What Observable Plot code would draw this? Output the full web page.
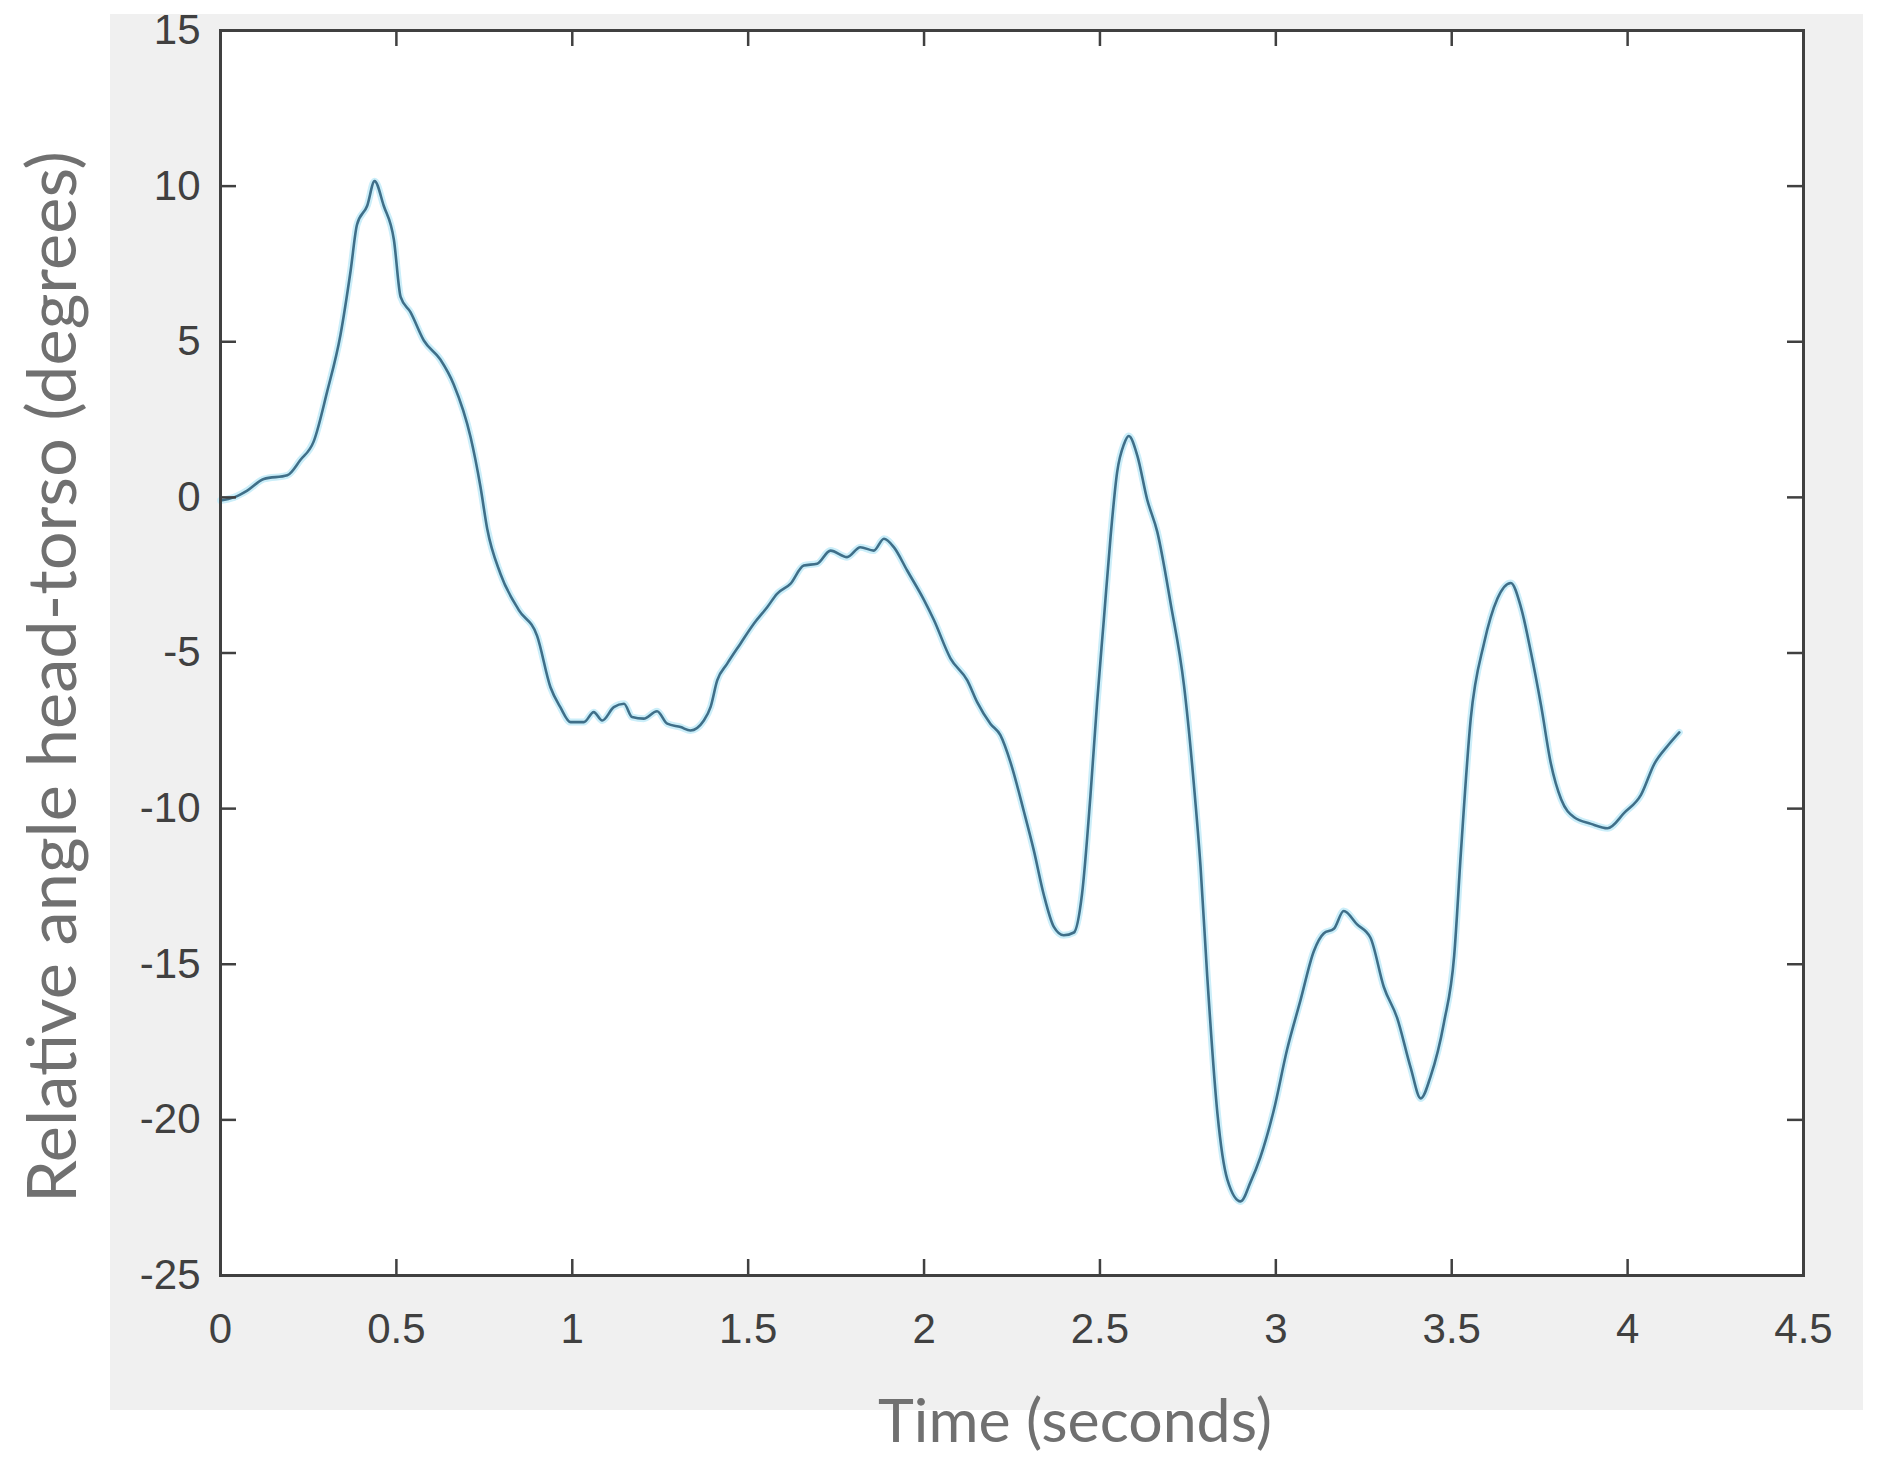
<!DOCTYPE html>
<html>
<head>
<meta charset="utf-8">
<script src="https://cdn.jsdelivr.net/npm/d3@7"></script>
<script src="https://cdn.jsdelivr.net/npm/@observablehq/plot@0.6"></script>
<style>
  html, body { margin: 0; padding: 0; background: #ffffff; overflow: hidden; }
  #wrap { position: relative; width: 1884px; height: 1472px; }
  #figbg { position: absolute; left: 110px; top: 14px; width: 1753px; height: 1396px; background: #f0f0f0; }
  #chart { position: absolute; left: 0; top: 0; }
</style>
</head>
<body>
<div id="wrap"><div id="figbg"></div><div id="chart"></div></div>
<script>
// ---- data ----
const times = [0, 0.038, 0.076, 0.123, 0.19, 0.227, 0.265, 0.303, 0.341, 0.370, 0.388, 0.417, 0.438, 0.464, 0.493, 0.512, 0.540, 0.578, 0.625, 0.663, 0.711, 0.739, 0.758, 0.796, 0.848, 0.900, 0.938, 0.966, 0.995, 1.033, 1.061, 1.085, 1.118, 1.147, 1.17, 1.203, 1.241, 1.27, 1.308, 1.336, 1.374, 1.393, 1.412, 1.44, 1.478, 1.516, 1.554, 1.582, 1.62, 1.658, 1.696, 1.734, 1.781, 1.819, 1.857, 1.886, 1.914, 1.952, 2.0, 2.028, 2.075, 2.123, 2.151, 2.189, 2.217, 2.246, 2.284, 2.312, 2.34, 2.369, 2.397, 2.426, 2.449, 2.473, 2.492, 2.511, 2.53, 2.549, 2.568, 2.582, 2.606, 2.634, 2.663, 2.701, 2.739, 2.767, 2.786, 2.805, 2.834, 2.862, 2.9, 2.928, 2.956, 2.994, 3.032, 3.07, 3.108, 3.136, 3.165, 3.193, 3.231, 3.269, 3.307, 3.345, 3.383, 3.412, 3.44, 3.478, 3.507, 3.526, 3.554, 3.592, 3.63, 3.668, 3.697, 3.725, 3.754, 3.782, 3.811, 3.848, 3.896, 3.943, 3.991, 4.038, 4.076, 4.114, 4.147];
const angles = [-0.1, 0.0, 0.22, 0.59, 0.71, 1.2, 1.8, 3.39, 5.22, 7.29, 8.76, 9.37, 10.16, 9.37, 8.27, 6.44, 5.95, 5.04, 4.43, 3.63, 1.93, 0.34, -1.0, -2.46, -3.62, -4.45, -6.1, -6.74, -7.22, -7.22, -6.9, -7.17, -6.74, -6.63, -7.06, -7.11, -6.87, -7.27, -7.38, -7.49, -7.17, -6.74, -5.88, -5.35, -4.7, -4.06, -3.53, -3.1, -2.78, -2.19, -2.13, -1.71, -1.92, -1.6, -1.71, -1.33, -1.6, -2.35, -3.3, -3.94, -5.17, -5.88, -6.58, -7.28, -7.64, -8.52, -10.1, -11.34, -12.75, -13.8, -14.07, -13.98, -12.75, -9.58, -6.58, -3.94, -1.29, 0.82, 1.7, 1.97, 1.35, -0.06, -1.11, -3.41, -6.05, -9.22, -11.87, -15.39, -19.8, -21.91, -22.62, -22.0, -21.2, -19.7, -17.74, -16.16, -14.58, -14.01, -13.86, -13.29, -13.72, -14.15, -15.73, -16.73, -18.31, -19.31, -18.6, -16.87, -14.72, -11.42, -7.12, -4.68, -3.25, -2.75, -3.54, -4.97, -6.69, -8.56, -9.7, -10.28, -10.49, -10.63, -10.13, -9.56, -8.56, -7.98, -7.55];
const xTicks = [0, 0.5, 1, 1.5, 2, 2.5, 3, 3.5, 4, 4.5];
const yTicks = [-25, -20, -15, -10, -5, 0, 5, 10, 15];
const xLabel = "Time (seconds)";
const yLabel = "Relative angle head-torso (degrees)";

const data = times.map((t, i) => ({t, a: angles[i]}));

const W = 1884, H = 1472;
const mL = 220, mR = 81, mT = 30, mB = 197;
const innerW = W - mL - mR, innerH = H - mT - mB;
const tickLen = 16;
const axisColor = "#404040";
const labelFont = "Lato, 'Open Sans', sans-serif";

function fitSize(text, family, target) {
  const c = document.createElement("canvas").getContext("2d");
  c.font = `100px ${family}`;
  return 100 * target / c.measureText(text).width;
}
const yLabelSize = fitSize(yLabel, labelFont, 1052);
const xLabelSize = fitSize(xLabel, labelFont, 394);

const chart = Plot.plot({
  width: W, height: H,
  marginLeft: mL, marginRight: mR, marginTop: mT, marginBottom: mB,
  style: {background: "transparent", fontFamily: "'Liberation Sans', Arial, sans-serif", fontSize: "42px"},
  x: {domain: [0, 4.5]},
  y: {domain: [-25, 15]},
  marks: [
    Plot.frame({fill: "white", stroke: null}),
    Plot.line(data, {x: "t", y: "a", curve: "monotone-x", stroke: "#cbeef9", strokeWidth: 7, strokeLinejoin: "round"}),
    Plot.line(data, {x: "t", y: "a", curve: "monotone-x", stroke: "#3f6f89", strokeWidth: 2.6, strokeLinejoin: "round"}),
    Plot.ruleX(xTicks, {x: d => d, insetTop: innerH - tickLen, stroke: axisColor, strokeWidth: 2.5}),
    Plot.ruleX(xTicks, {x: d => d, insetBottom: innerH - tickLen, stroke: axisColor, strokeWidth: 2.5}),
    Plot.ruleY(yTicks, {y: d => d, insetRight: innerW - tickLen, stroke: axisColor, strokeWidth: 2.5}),
    Plot.ruleY(yTicks, {y: d => d, insetLeft: innerW - tickLen, stroke: axisColor, strokeWidth: 2.5}),
    Plot.frame({stroke: axisColor, strokeWidth: 3}),
    Plot.axisX(xTicks, {tickSize: 0, tickPadding: 38, tickFormat: d => String(d), fontSize: 42, color: axisColor, label: null}),
    Plot.axisY(yTicks, {tickSize: 0, tickPadding: 20, tickFormat: d => String(d), fontSize: 42, color: axisColor, label: null}),
    Plot.text([yLabel], {text: d => d, frameAnchor: "left", textAnchor: "middle", rotate: -90, dx: -166, dy: 24, lineAnchor: "middle", fontSize: yLabelSize, fontFamily: labelFont, fill: "#707070"}),
    Plot.text([xLabel], {text: d => d, frameAnchor: "bottom", textAnchor: "middle", dx: 63, dy: 147, lineAnchor: "middle", fontSize: xLabelSize, fontFamily: labelFont, fill: "#707070"})
  ]
});
document.getElementById("chart").appendChild(chart);
</script>
</body>
</html>
